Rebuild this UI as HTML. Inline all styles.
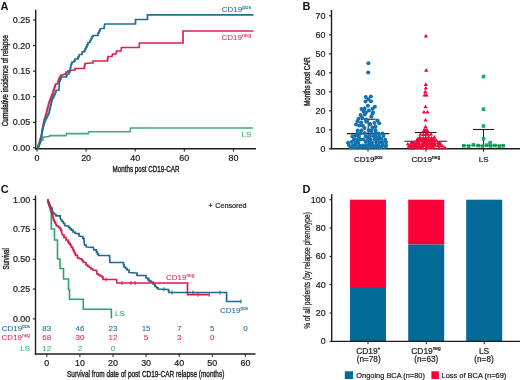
<!DOCTYPE html>
<html><head><meta charset="utf-8"><style>
html,body{margin:0;padding:0;background:#fff;}
.ttl{font-weight:normal;stroke:#222;stroke-width:0.38px;}
svg{display:block;font-family:"Liberation Sans",sans-serif;will-change:transform;}
</style></head><body>
<svg width="520" height="380" viewBox="0 0 520 380">
<rect width="520" height="380" fill="#fff"/>
<text x="0.6" y="9.9" font-size="11" font-weight="bold" fill="#111">A</text>
<line x1="35.7" y1="9.8" x2="35.7" y2="149.4" stroke="#1e1e1e" stroke-width="1.4"/>
<line x1="35" y1="148.7" x2="256" y2="148.7" stroke="#1e1e1e" stroke-width="1.4"/>
<line x1="33" y1="147.80" x2="36" y2="147.80" stroke="#1e1e1e" stroke-width="1.1"/>
<text x="30.1" y="150.80" font-size="8.9" text-anchor="end" fill="#222222" stroke="#222222" stroke-width="0.22">0.00</text>
<line x1="33" y1="122.25" x2="36" y2="122.25" stroke="#1e1e1e" stroke-width="1.1"/>
<text x="30.1" y="125.25" font-size="8.9" text-anchor="end" fill="#222222" stroke="#222222" stroke-width="0.22">0.05</text>
<line x1="33" y1="96.70" x2="36" y2="96.70" stroke="#1e1e1e" stroke-width="1.1"/>
<text x="30.1" y="99.70" font-size="8.9" text-anchor="end" fill="#222222" stroke="#222222" stroke-width="0.22">0.10</text>
<line x1="33" y1="71.15" x2="36" y2="71.15" stroke="#1e1e1e" stroke-width="1.1"/>
<text x="30.1" y="74.15" font-size="8.9" text-anchor="end" fill="#222222" stroke="#222222" stroke-width="0.22">0.15</text>
<line x1="33" y1="45.60" x2="36" y2="45.60" stroke="#1e1e1e" stroke-width="1.1"/>
<text x="30.1" y="48.60" font-size="8.9" text-anchor="end" fill="#222222" stroke="#222222" stroke-width="0.22">0.20</text>
<line x1="33" y1="20.05" x2="36" y2="20.05" stroke="#1e1e1e" stroke-width="1.1"/>
<text x="30.1" y="23.05" font-size="8.9" text-anchor="end" fill="#222222" stroke="#222222" stroke-width="0.22">0.25</text>
<line x1="37.00" y1="148.8" x2="37.00" y2="151.6" stroke="#1e1e1e" stroke-width="1"/>
<text x="37.00" y="160.8" font-size="8.9" text-anchor="middle" fill="#222222" stroke="#222222" stroke-width="0.22">0</text>
<line x1="86.10" y1="148.8" x2="86.10" y2="151.6" stroke="#1e1e1e" stroke-width="1"/>
<text x="86.10" y="160.8" font-size="8.9" text-anchor="middle" fill="#222222" stroke="#222222" stroke-width="0.22">20</text>
<line x1="135.20" y1="148.8" x2="135.20" y2="151.6" stroke="#1e1e1e" stroke-width="1"/>
<text x="135.20" y="160.8" font-size="8.9" text-anchor="middle" fill="#222222" stroke="#222222" stroke-width="0.22">40</text>
<line x1="184.30" y1="148.8" x2="184.30" y2="151.6" stroke="#1e1e1e" stroke-width="1"/>
<text x="184.30" y="160.8" font-size="8.9" text-anchor="middle" fill="#222222" stroke="#222222" stroke-width="0.22">60</text>
<line x1="233.40" y1="148.8" x2="233.40" y2="151.6" stroke="#1e1e1e" stroke-width="1"/>
<text x="233.40" y="160.8" font-size="8.9" text-anchor="middle" fill="#222222" stroke="#222222" stroke-width="0.22">80</text>
<text class="ttl" x="112.6" y="171.6" font-size="8.9" textLength="66.8" lengthAdjust="spacingAndGlyphs" fill="#222222">Months post CD19-CAR</text>
<text class="ttl" transform="translate(7.5,126.3) rotate(-90)" x="0" y="0" font-size="8.4" textLength="91.3" lengthAdjust="spacingAndGlyphs" fill="#222222">Cumulative incidence of relapse</text>
<polyline points="37,148 38.0,148.0 38.0,146.0 39.0,146.0 39.0,144.0 40.0,144.0 40.0,142.0 41.0,142.0 41.0,140.0 43.0,140.0 43.0,137.3 49.2,136.6 49.6,135.6 66,135.6 66.5,133.6 88.3,133.6 88.6,131.8 130,131.8 130.5,128 252.8,128" fill="none" stroke="#45a878" stroke-width="1.6"/>
<polyline points="37,148 37.75,148.0 37.75,146.5 38.5,146.5 38.5,145.0 39.0,145.0 39.0,143.33 39.5,143.33 39.5,141.67 40.0,141.67 40.0,140.0 40.5,140.0 40.5,138.0 41.0,138.0 41.0,136.0 41.5,136.0 41.5,134.0 41.83,134.0 41.83,132.0 42.17,132.0 42.17,130.0 42.5,130.0 42.5,128.0 42.88,128.0 42.88,126.0 43.25,126.0 43.25,124.0 43.62,124.0 43.62,122.0 44.0,122.0 44.0,120.0 44.62,120.0 44.62,118.0 45.25,118.0 45.25,116.0 45.88,116.0 45.88,114.0 46.5,114.0 46.5,112.0 46.92,112.0 46.92,110.33 47.33,110.33 47.33,108.67 47.75,108.67 47.75,107.0 48.17,107.0 48.17,105.33 48.58,105.33 48.58,103.67 49.0,103.67 49.0,102.0 49.7,102.0 49.7,100.2 50.4,100.2 50.4,98.4 51.1,98.4 51.1,96.6 51.8,96.6 51.8,94.8 52.5,94.8 52.5,93.0 53.1,93.0 53.1,91.2 53.7,91.2 53.7,89.4 54.3,89.4 54.3,87.6 54.9,87.6 54.9,85.8 55.5,85.8 55.5,84.0 57.5,84.0 57.5,83.0 58.0,83.0 58.0,81.33 58.5,81.33 58.5,79.67 59.0,79.67 59.0,78.0 60.0,78.0 60.0,76.5 61.0,76.5 61.0,75.0 63.0,75.0 63.0,74.5 65.0,74.5 65.0,74.0 66.0,74.0 66.0,72.0 68.0,72.0 68.0,71.0 70,70.5 74,70 75.0,70.0 75.0,68.5 84,68.5 84.33,68.5 84.33,66.83 84.67,66.83 84.67,65.17 85.0,65.17 85.0,63.5 92,63 93.0,63.0 93.0,61.0 107,61 107.5,61.0 107.5,58.75 108.0,58.75 108.0,56.5 112,56.5 112.5,54 116,54 116.5,51 121,51 121.5,47.5 139,47.5 139.5,43 183,43 183,31 253.5,31" fill="none" stroke="#d8244f" stroke-width="1.7"/>
<polyline points="37,148 38.5,148.0 38.5,145.5 39.25,145.5 39.25,143.25 40.0,143.25 40.0,141.0 40.5,141.0 40.5,139.33 41.0,139.33 41.0,137.67 41.5,137.67 41.5,136.0 41.75,136.0 41.75,134.25 42.0,134.25 42.0,132.5 42.25,132.5 42.25,130.75 42.5,130.75 42.5,129.0 43.0,129.0 43.0,127.0 43.5,127.0 43.5,125.0 44.0,125.0 44.0,123.33 44.5,123.33 44.5,121.67 45.0,121.67 45.0,120.0 46.0,120.0 46.0,118.0 47.0,118.0 47.0,116.0 48.0,116.0 48.0,114.0 49.0,114.0 49.0,112.0 49.43,112.0 49.43,110.14 49.86,110.14 49.86,108.29 50.29,108.29 50.29,106.43 50.71,106.43 50.71,104.57 51.14,104.57 51.14,102.71 51.57,102.71 51.57,100.86 52.0,100.86 52.0,99.0 52.83,99.0 52.83,97.33 53.67,97.33 53.67,95.67 54.5,95.67 54.5,94.0 55.25,94.0 55.25,92.25 56.0,92.25 56.0,90.5 59,90 59.5,81 60.25,81.0 60.25,79.0 61.0,79.0 61.0,77.0 66,77 66.5,77.0 66.5,75.5 67.0,75.5 67.0,74.0 69.0,74.0 69.0,72.0 70.0,72.0 70.0,70.0 70.33,70.0 70.33,68.0 70.67,68.0 70.67,66.0 71.0,66.0 71.0,64.0 72.0,64.0 72.0,62.0 74.0,62.0 74.0,61.0 75.0,61.0 75.0,59.0 77,59 78.0,59.0 78.0,57.0 79.0,57.0 79.0,55.0 80,54.5 82.0,54.5 82.0,52.0 84.0,52.0 84.0,51.0 85.0,51.0 85.0,49.0 86.0,49.0 86.0,47.0 87.0,47.0 87.0,44.75 88.0,44.75 88.0,42.5 90.0,42.5 90.0,40.5 91.0,40.5 91.0,38.5 92.0,38.5 92.0,36.5 93.0,36.5 93.0,35.5 97,35.5 98.0,35.5 98.0,33.0 99.0,33.0 99.0,31.0 100.0,31.0 100.0,29.0 101,28.5 104,28.5 104.5,25 105,24 135.5,24 135.5,19.5 147.5,19.5 147.5,14.8 253.5,14.8" fill="none" stroke="#226d90" stroke-width="1.7"/>
<text x="221.8" y="12.1" font-size="8" fill="#2a72a0" stroke="#2a72a0" stroke-width="0.1">CD19<tspan font-size="5.6" dy="-3.2">pos</tspan></text>
<text x="221.5" y="40.3" font-size="8" fill="#dc3460" stroke="#dc3460" stroke-width="0.1">CD19<tspan font-size="5.6" dy="-3.2">neg</tspan></text>
<text x="241.5" y="137.1" font-size="8" fill="#3cb371" stroke="#3cb371" stroke-width="0.1">LS</text>
<text x="302.6" y="9.8" font-size="11" font-weight="bold" fill="#111">B</text>
<line x1="331.5" y1="10" x2="331.5" y2="149.4" stroke="#1e1e1e" stroke-width="1.4"/>
<line x1="330.8" y1="148.7" x2="520" y2="148.7" stroke="#1e1e1e" stroke-width="1.4"/>
<line x1="329" y1="148.80" x2="331.5" y2="148.80" stroke="#1e1e1e" stroke-width="1.1"/>
<text x="325.4" y="151.80" font-size="8.9" text-anchor="end" fill="#222222" stroke="#222222" stroke-width="0.22">0</text>
<line x1="329" y1="129.80" x2="331.5" y2="129.80" stroke="#1e1e1e" stroke-width="1.1"/>
<text x="325.4" y="132.80" font-size="8.9" text-anchor="end" fill="#222222" stroke="#222222" stroke-width="0.22">10</text>
<line x1="329" y1="110.80" x2="331.5" y2="110.80" stroke="#1e1e1e" stroke-width="1.1"/>
<text x="325.4" y="113.80" font-size="8.9" text-anchor="end" fill="#222222" stroke="#222222" stroke-width="0.22">20</text>
<line x1="329" y1="91.80" x2="331.5" y2="91.80" stroke="#1e1e1e" stroke-width="1.1"/>
<text x="325.4" y="94.80" font-size="8.9" text-anchor="end" fill="#222222" stroke="#222222" stroke-width="0.22">30</text>
<line x1="329" y1="72.80" x2="331.5" y2="72.80" stroke="#1e1e1e" stroke-width="1.1"/>
<text x="325.4" y="75.80" font-size="8.9" text-anchor="end" fill="#222222" stroke="#222222" stroke-width="0.22">40</text>
<line x1="329" y1="53.80" x2="331.5" y2="53.80" stroke="#1e1e1e" stroke-width="1.1"/>
<text x="325.4" y="56.80" font-size="8.9" text-anchor="end" fill="#222222" stroke="#222222" stroke-width="0.22">50</text>
<line x1="329" y1="34.80" x2="331.5" y2="34.80" stroke="#1e1e1e" stroke-width="1.1"/>
<text x="325.4" y="37.80" font-size="8.9" text-anchor="end" fill="#222222" stroke="#222222" stroke-width="0.22">60</text>
<line x1="329" y1="15.80" x2="331.5" y2="15.80" stroke="#1e1e1e" stroke-width="1.1"/>
<text x="325.4" y="18.80" font-size="8.9" text-anchor="end" fill="#222222" stroke="#222222" stroke-width="0.22">70</text>
<line x1="368" y1="148.8" x2="368" y2="151.6" stroke="#1e1e1e" stroke-width="1"/>
<line x1="426" y1="148.8" x2="426" y2="151.6" stroke="#1e1e1e" stroke-width="1"/>
<line x1="483.5" y1="148.8" x2="483.5" y2="151.6" stroke="#1e1e1e" stroke-width="1"/>
<text x="368.3" y="162" font-size="8" text-anchor="middle" fill="#222222" stroke="#222222" stroke-width="0.22">CD19<tspan font-size="5" dy="-3.1">pos</tspan></text>
<text x="425.8" y="162" font-size="8" text-anchor="middle" fill="#222222" stroke="#222222" stroke-width="0.22">CD19<tspan font-size="5" dy="-3.1">neg</tspan></text>
<text x="483.6" y="162" font-size="8" text-anchor="middle" fill="#222222" stroke="#222222" stroke-width="0.22">LS</text>
<line x1="368.2" y1="119.2" x2="368.2" y2="147" stroke="#1e1e1e" stroke-width="1"/>
<line x1="360.7" y1="119.2" x2="375.7" y2="119.2" stroke="#1e1e1e" stroke-width="1.1"/>
<line x1="347.0" y1="133.6" x2="389.4" y2="133.6" stroke="#1e1e1e" stroke-width="1.1"/>
<line x1="425.8" y1="132.5" x2="425.8" y2="148" stroke="#1e1e1e" stroke-width="1"/>
<line x1="415.0" y1="132.5" x2="436.6" y2="132.5" stroke="#1e1e1e" stroke-width="1.1"/>
<line x1="404.40000000000003" y1="141.3" x2="447.2" y2="141.3" stroke="#1e1e1e" stroke-width="1.1"/>
<line x1="483.5" y1="129.5" x2="483.5" y2="148" stroke="#1e1e1e" stroke-width="1"/>
<line x1="473.0" y1="129.5" x2="494.0" y2="129.5" stroke="#1e1e1e" stroke-width="1.1"/>
<circle cx="368.40" cy="63.30" r="2" fill="#1571ad"/>
<circle cx="368.20" cy="72.50" r="2" fill="#1571ad"/>
<circle cx="365.80" cy="97.00" r="2" fill="#1571ad"/>
<circle cx="370.90" cy="96.60" r="2" fill="#1571ad"/>
<circle cx="368.20" cy="99.20" r="2" fill="#1571ad"/>
<circle cx="365.50" cy="101.60" r="2" fill="#1571ad"/>
<circle cx="370.90" cy="101.30" r="2" fill="#1571ad"/>
<circle cx="367.90" cy="105.70" r="2" fill="#1571ad"/>
<circle cx="374.90" cy="106.70" r="2" fill="#1571ad"/>
<circle cx="361.50" cy="108.90" r="2" fill="#1571ad"/>
<circle cx="364.60" cy="108.60" r="2" fill="#1571ad"/>
<circle cx="372.60" cy="108.80" r="2" fill="#1571ad"/>
<circle cx="369.00" cy="110.40" r="2" fill="#1571ad"/>
<circle cx="366.00" cy="112.30" r="2" fill="#1571ad"/>
<circle cx="373.00" cy="112.60" r="2" fill="#1571ad"/>
<circle cx="364.80" cy="114.50" r="2" fill="#1571ad"/>
<circle cx="372.50" cy="113.60" r="2" fill="#1571ad"/>
<circle cx="362.00" cy="117.50" r="2" fill="#1571ad"/>
<circle cx="371.30" cy="116.40" r="2" fill="#1571ad"/>
<circle cx="357.50" cy="121.20" r="2" fill="#1571ad"/>
<circle cx="361.20" cy="122.60" r="2" fill="#1571ad"/>
<circle cx="366.20" cy="121.70" r="2" fill="#1571ad"/>
<circle cx="370.00" cy="124.00" r="2" fill="#1571ad"/>
<circle cx="374.50" cy="123.00" r="2" fill="#1571ad"/>
<circle cx="379.20" cy="123.30" r="2" fill="#1571ad"/>
<circle cx="359.30" cy="125.40" r="2" fill="#1571ad"/>
<circle cx="362.80" cy="125.80" r="2" fill="#1571ad"/>
<circle cx="366.00" cy="119.50" r="2" fill="#1571ad"/>
<circle cx="356.00" cy="124.50" r="2" fill="#1571ad"/>
<circle cx="358.50" cy="118.80" r="2" fill="#1571ad"/>
<circle cx="369.90" cy="124.60" r="2" fill="#1571ad"/>
<circle cx="375.50" cy="126.80" r="2" fill="#1571ad"/>
<circle cx="372.50" cy="127.50" r="2" fill="#1571ad"/>
<circle cx="364.50" cy="128.00" r="2" fill="#1571ad"/>
<circle cx="377.50" cy="120.50" r="2" fill="#1571ad"/>
<circle cx="363.50" cy="111.50" r="2" fill="#1571ad"/>
<circle cx="360.50" cy="115.00" r="2" fill="#1571ad"/>
<circle cx="357.74" cy="130.44" r="2" fill="#1571ad"/>
<circle cx="361.34" cy="130.54" r="2" fill="#1571ad"/>
<circle cx="368.74" cy="130.32" r="2" fill="#1571ad"/>
<circle cx="371.51" cy="130.18" r="2" fill="#1571ad"/>
<circle cx="375.54" cy="130.26" r="2" fill="#1571ad"/>
<circle cx="357.28" cy="133.63" r="2" fill="#1571ad"/>
<circle cx="360.66" cy="133.54" r="2" fill="#1571ad"/>
<circle cx="364.62" cy="133.00" r="2" fill="#1571ad"/>
<circle cx="371.21" cy="133.07" r="2" fill="#1571ad"/>
<circle cx="375.37" cy="133.13" r="2" fill="#1571ad"/>
<circle cx="378.54" cy="133.44" r="2" fill="#1571ad"/>
<circle cx="382.44" cy="133.45" r="2" fill="#1571ad"/>
<circle cx="352.39" cy="136.24" r="2" fill="#1571ad"/>
<circle cx="355.15" cy="136.12" r="2" fill="#1571ad"/>
<circle cx="358.78" cy="136.48" r="2" fill="#1571ad"/>
<circle cx="365.79" cy="136.25" r="2" fill="#1571ad"/>
<circle cx="369.43" cy="136.25" r="2" fill="#1571ad"/>
<circle cx="373.14" cy="136.05" r="2" fill="#1571ad"/>
<circle cx="375.95" cy="136.60" r="2" fill="#1571ad"/>
<circle cx="379.43" cy="136.63" r="2" fill="#1571ad"/>
<circle cx="383.48" cy="136.01" r="2" fill="#1571ad"/>
<circle cx="353.96" cy="139.16" r="2" fill="#1571ad"/>
<circle cx="357.43" cy="139.75" r="2" fill="#1571ad"/>
<circle cx="360.35" cy="139.42" r="2" fill="#1571ad"/>
<circle cx="363.61" cy="139.60" r="2" fill="#1571ad"/>
<circle cx="367.86" cy="139.03" r="2" fill="#1571ad"/>
<circle cx="370.59" cy="139.27" r="2" fill="#1571ad"/>
<circle cx="374.92" cy="139.27" r="2" fill="#1571ad"/>
<circle cx="378.05" cy="139.25" r="2" fill="#1571ad"/>
<circle cx="381.18" cy="139.06" r="2" fill="#1571ad"/>
<circle cx="385.19" cy="139.80" r="2" fill="#1571ad"/>
<circle cx="348.05" cy="142.69" r="2" fill="#1571ad"/>
<circle cx="351.81" cy="142.09" r="2" fill="#1571ad"/>
<circle cx="355.64" cy="142.26" r="2" fill="#1571ad"/>
<circle cx="358.28" cy="142.63" r="2" fill="#1571ad"/>
<circle cx="365.88" cy="142.00" r="2" fill="#1571ad"/>
<circle cx="369.40" cy="142.40" r="2" fill="#1571ad"/>
<circle cx="371.97" cy="142.25" r="2" fill="#1571ad"/>
<circle cx="376.12" cy="142.14" r="2" fill="#1571ad"/>
<circle cx="379.68" cy="142.58" r="2" fill="#1571ad"/>
<circle cx="382.54" cy="142.29" r="2" fill="#1571ad"/>
<circle cx="385.98" cy="142.13" r="2" fill="#1571ad"/>
<circle cx="348.85" cy="145.10" r="2" fill="#1571ad"/>
<circle cx="352.99" cy="145.30" r="2" fill="#1571ad"/>
<circle cx="355.69" cy="144.87" r="2" fill="#1571ad"/>
<circle cx="359.46" cy="145.49" r="2" fill="#1571ad"/>
<circle cx="362.80" cy="145.42" r="2" fill="#1571ad"/>
<circle cx="366.00" cy="145.41" r="2" fill="#1571ad"/>
<circle cx="369.37" cy="145.02" r="2" fill="#1571ad"/>
<circle cx="372.76" cy="145.35" r="2" fill="#1571ad"/>
<circle cx="376.26" cy="145.32" r="2" fill="#1571ad"/>
<circle cx="378.66" cy="145.24" r="2" fill="#1571ad"/>
<circle cx="382.64" cy="145.17" r="2" fill="#1571ad"/>
<circle cx="385.95" cy="145.44" r="2" fill="#1571ad"/>
<circle cx="350.64" cy="147.49" r="2" fill="#1571ad"/>
<circle cx="353.85" cy="147.57" r="2" fill="#1571ad"/>
<circle cx="357.69" cy="147.68" r="2" fill="#1571ad"/>
<circle cx="361.02" cy="147.32" r="2" fill="#1571ad"/>
<circle cx="364.84" cy="147.65" r="2" fill="#1571ad"/>
<circle cx="368.19" cy="147.48" r="2" fill="#1571ad"/>
<circle cx="371.17" cy="147.52" r="2" fill="#1571ad"/>
<circle cx="375.17" cy="147.24" r="2" fill="#1571ad"/>
<circle cx="378.77" cy="147.41" r="2" fill="#1571ad"/>
<circle cx="381.53" cy="147.03" r="2" fill="#1571ad"/>
<circle cx="385.65" cy="147.08" r="2" fill="#1571ad"/>
<path d="M423.80,37.40L425.90,33.80L428.00,37.40Z" fill="#f2043a"/>
<path d="M424.10,71.70L426.20,68.10L428.30,71.70Z" fill="#f2043a"/>
<path d="M423.70,85.90L425.80,82.30L427.90,85.90Z" fill="#f2043a"/>
<path d="M423.70,89.60L425.80,86.00L427.90,89.60Z" fill="#f2043a"/>
<path d="M423.10,93.20L425.20,89.60L427.30,93.20Z" fill="#f2043a"/>
<path d="M422.50,96.60L424.60,93.00L426.70,96.60Z" fill="#f2043a"/>
<path d="M424.50,96.60L426.60,93.00L428.70,96.60Z" fill="#f2043a"/>
<path d="M423.40,108.20L425.50,104.60L427.60,108.20Z" fill="#f2043a"/>
<path d="M421.90,113.60L424.00,110.00L426.10,113.60Z" fill="#f2043a"/>
<path d="M425.40,113.60L427.50,110.00L429.60,113.60Z" fill="#f2043a"/>
<path d="M423.40,121.60L425.50,118.00L427.60,121.60Z" fill="#f2043a"/>
<path d="M423.40,128.20L425.50,124.60L427.60,128.20Z" fill="#f2043a"/>
<path d="M422.20,131.40L424.30,127.80L426.40,131.40Z" fill="#f2043a"/>
<path d="M424.60,131.40L426.70,127.80L428.80,131.40Z" fill="#f2043a"/>
<path d="M421.66,132.25L423.76,128.65L425.86,132.25Z" fill="#f2043a"/>
<path d="M423.17,132.26L425.27,128.66L427.37,132.26Z" fill="#f2043a"/>
<path d="M425.28,132.42L427.38,128.82L429.48,132.42Z" fill="#f2043a"/>
<path d="M418.34,135.76L420.44,132.16L422.54,135.76Z" fill="#f2043a"/>
<path d="M421.38,135.91L423.48,132.31L425.58,135.91Z" fill="#f2043a"/>
<path d="M424.08,135.20L426.18,131.60L428.28,135.20Z" fill="#f2043a"/>
<path d="M425.68,135.69L427.78,132.09L429.88,135.69Z" fill="#f2043a"/>
<path d="M428.70,135.65L430.80,132.05L432.90,135.65Z" fill="#f2043a"/>
<path d="M417.78,138.95L419.88,135.35L421.98,138.95Z" fill="#f2043a"/>
<path d="M421.13,139.45L423.23,135.85L425.33,139.45Z" fill="#f2043a"/>
<path d="M423.70,139.28L425.80,135.68L427.90,139.28Z" fill="#f2043a"/>
<path d="M426.41,138.47L428.51,134.87L430.61,138.47Z" fill="#f2043a"/>
<path d="M429.41,139.45L431.51,135.85L433.61,139.45Z" fill="#f2043a"/>
<path d="M432.23,138.72L434.33,135.12L436.43,138.72Z" fill="#f2043a"/>
<path d="M415.80,140.13L417.90,136.53L420.00,140.13Z" fill="#f2043a"/>
<path d="M419.04,140.17L421.14,136.57L423.24,140.17Z" fill="#f2043a"/>
<path d="M421.87,140.45L423.97,136.85L426.07,140.45Z" fill="#f2043a"/>
<path d="M423.57,140.35L425.67,136.75L427.77,140.35Z" fill="#f2043a"/>
<path d="M426.26,141.15L428.36,137.55L430.46,141.15Z" fill="#f2043a"/>
<path d="M429.01,140.31L431.11,136.71L433.21,140.31Z" fill="#f2043a"/>
<path d="M431.40,140.50L433.50,136.90L435.60,140.50Z" fill="#f2043a"/>
<path d="M414.68,142.19L416.78,138.59L418.88,142.19Z" fill="#f2043a"/>
<path d="M416.52,141.75L418.62,138.15L420.72,141.75Z" fill="#f2043a"/>
<path d="M418.93,141.95L421.03,138.35L423.13,141.95Z" fill="#f2043a"/>
<path d="M421.84,141.62L423.94,138.02L426.04,141.62Z" fill="#f2043a"/>
<path d="M423.63,142.72L425.73,139.12L427.83,142.72Z" fill="#f2043a"/>
<path d="M426.04,141.92L428.14,138.32L430.24,141.92Z" fill="#f2043a"/>
<path d="M429.39,141.95L431.49,138.35L433.59,141.95Z" fill="#f2043a"/>
<path d="M431.22,142.37L433.32,138.77L435.42,142.37Z" fill="#f2043a"/>
<path d="M433.99,141.74L436.09,138.14L438.19,141.74Z" fill="#f2043a"/>
<path d="M409.66,143.94L411.76,140.34L413.86,143.94Z" fill="#f2043a"/>
<path d="M412.20,143.94L414.30,140.34L416.40,143.94Z" fill="#f2043a"/>
<path d="M414.82,144.19L416.92,140.59L419.02,144.19Z" fill="#f2043a"/>
<path d="M416.98,143.60L419.08,140.00L421.18,143.60Z" fill="#f2043a"/>
<path d="M420.58,144.37L422.68,140.77L424.78,144.37Z" fill="#f2043a"/>
<path d="M422.04,144.23L424.14,140.63L426.24,144.23Z" fill="#f2043a"/>
<path d="M425.26,144.15L427.36,140.55L429.46,144.15Z" fill="#f2043a"/>
<path d="M427.70,144.39L429.80,140.79L431.90,144.39Z" fill="#f2043a"/>
<path d="M430.13,144.32L432.23,140.72L434.33,144.32Z" fill="#f2043a"/>
<path d="M432.56,144.30L434.66,140.70L436.76,144.30Z" fill="#f2043a"/>
<path d="M435.76,144.13L437.86,140.53L439.96,144.13Z" fill="#f2043a"/>
<path d="M437.64,144.24L439.74,140.64L441.84,144.24Z" fill="#f2043a"/>
<path d="M405.77,145.57L407.87,141.97L409.97,145.57Z" fill="#f2043a"/>
<path d="M408.85,145.40L410.95,141.80L413.05,145.40Z" fill="#f2043a"/>
<path d="M411.61,145.97L413.71,142.37L415.81,145.97Z" fill="#f2043a"/>
<path d="M413.84,145.98L415.94,142.38L418.04,145.98Z" fill="#f2043a"/>
<path d="M417.01,145.03L419.11,141.43L421.21,145.03Z" fill="#f2043a"/>
<path d="M420.04,146.20L422.14,142.60L424.24,146.20Z" fill="#f2043a"/>
<path d="M421.58,146.01L423.68,142.41L425.78,146.01Z" fill="#f2043a"/>
<path d="M424.95,146.14L427.05,142.54L429.15,146.14Z" fill="#f2043a"/>
<path d="M426.99,145.35L429.09,141.75L431.19,145.35Z" fill="#f2043a"/>
<path d="M429.66,145.73L431.76,142.13L433.86,145.73Z" fill="#f2043a"/>
<path d="M432.33,145.75L434.43,142.15L436.53,145.75Z" fill="#f2043a"/>
<path d="M437.90,145.09L440.00,141.49L442.10,145.09Z" fill="#f2043a"/>
<path d="M406.69,147.75L408.79,144.15L410.89,147.75Z" fill="#f2043a"/>
<path d="M408.97,147.08L411.07,143.48L413.17,147.08Z" fill="#f2043a"/>
<path d="M411.70,147.83L413.80,144.23L415.90,147.83Z" fill="#f2043a"/>
<path d="M413.83,147.54L415.93,143.94L418.03,147.54Z" fill="#f2043a"/>
<path d="M417.17,147.31L419.27,143.71L421.37,147.31Z" fill="#f2043a"/>
<path d="M419.74,147.45L421.84,143.85L423.94,147.45Z" fill="#f2043a"/>
<path d="M422.39,147.01L424.49,143.41L426.59,147.01Z" fill="#f2043a"/>
<path d="M425.00,146.86L427.10,143.26L429.20,146.86Z" fill="#f2043a"/>
<path d="M427.48,147.58L429.58,143.98L431.68,147.58Z" fill="#f2043a"/>
<path d="M430.54,147.49L432.64,143.89L434.74,147.49Z" fill="#f2043a"/>
<path d="M433.14,146.81L435.24,143.21L437.34,146.81Z" fill="#f2043a"/>
<path d="M435.71,146.99L437.81,143.39L439.91,146.99Z" fill="#f2043a"/>
<path d="M438.22,147.09L440.32,143.49L442.42,147.09Z" fill="#f2043a"/>
<path d="M440.34,147.57L442.44,143.97L444.54,147.57Z" fill="#f2043a"/>
<path d="M408.30,149.22L410.40,145.62L412.50,149.22Z" fill="#f2043a"/>
<path d="M409.95,149.57L412.05,145.97L414.15,149.57Z" fill="#f2043a"/>
<path d="M413.46,148.57L415.56,144.97L417.66,148.57Z" fill="#f2043a"/>
<path d="M415.55,148.68L417.65,145.08L419.75,148.68Z" fill="#f2043a"/>
<path d="M418.52,148.82L420.62,145.22L422.72,148.82Z" fill="#f2043a"/>
<path d="M420.61,149.40L422.71,145.80L424.81,149.40Z" fill="#f2043a"/>
<path d="M424.07,148.92L426.17,145.32L428.27,148.92Z" fill="#f2043a"/>
<path d="M426.38,149.11L428.48,145.51L430.58,149.11Z" fill="#f2043a"/>
<path d="M429.30,148.87L431.40,145.27L433.50,148.87Z" fill="#f2043a"/>
<path d="M431.11,148.64L433.21,145.04L435.31,148.64Z" fill="#f2043a"/>
<path d="M436.96,149.31L439.06,145.71L441.16,149.31Z" fill="#f2043a"/>
<path d="M442.77,149.14L444.87,145.54L446.97,149.14Z" fill="#f2043a"/>
<rect x="481.65" y="74.75" width="3.7" height="3.7" fill="#1fb066"/>
<rect x="481.65" y="107.35" width="3.7" height="3.7" fill="#1fb066"/>
<rect x="481.65" y="124.15" width="3.7" height="3.7" fill="#1fb066"/>
<rect x="481.65" y="136.95" width="3.7" height="3.7" fill="#1fb066"/>
<rect x="488.35" y="140.85" width="3.7" height="3.7" fill="#1fb066"/>
<rect x="461.95" y="143.95" width="3.7" height="3.7" fill="#1fb066"/>
<rect x="466.75" y="144.35" width="3.7" height="3.7" fill="#1fb066"/>
<rect x="471.55" y="142.95" width="3.7" height="3.7" fill="#1fb066"/>
<rect x="476.35" y="143.75" width="3.7" height="3.7" fill="#1fb066"/>
<rect x="480.65" y="144.35" width="3.7" height="3.7" fill="#1fb066"/>
<rect x="484.95" y="143.35" width="3.7" height="3.7" fill="#1fb066"/>
<rect x="488.85" y="144.15" width="3.7" height="3.7" fill="#1fb066"/>
<rect x="493.15" y="143.75" width="3.7" height="3.7" fill="#1fb066"/>
<rect x="497.45" y="144.25" width="3.7" height="3.7" fill="#1fb066"/>
<rect x="501.35" y="143.95" width="3.7" height="3.7" fill="#1fb066"/>
<line x1="462" y1="145.4" x2="505" y2="145.4" stroke="#3a5a48" stroke-width="0.9" opacity="0.8"/>
<text class="ttl" transform="translate(309.6,105.8) rotate(-90)" font-size="8.2" textLength="48.6" lengthAdjust="spacingAndGlyphs" fill="#222222">Months post CAR</text>
<text x="0.8" y="193.2" font-size="11" font-weight="bold" fill="#111">C</text>
<line x1="35.5" y1="195.5" x2="35.5" y2="354.7" stroke="#1e1e1e" stroke-width="1.4"/>
<line x1="34.8" y1="354" x2="255.5" y2="354" stroke="#1e1e1e" stroke-width="1.4"/>
<line x1="32.8" y1="318.90" x2="35.5" y2="318.90" stroke="#1e1e1e" stroke-width="1.1"/>
<text x="30.2" y="321.90" font-size="8.9" text-anchor="end" fill="#222222" stroke="#222222" stroke-width="0.22">0.00</text>
<line x1="32.8" y1="289.05" x2="35.5" y2="289.05" stroke="#1e1e1e" stroke-width="1.1"/>
<text x="30.2" y="292.05" font-size="8.9" text-anchor="end" fill="#222222" stroke="#222222" stroke-width="0.22">0.25</text>
<line x1="32.8" y1="259.20" x2="35.5" y2="259.20" stroke="#1e1e1e" stroke-width="1.1"/>
<text x="30.2" y="262.20" font-size="8.9" text-anchor="end" fill="#222222" stroke="#222222" stroke-width="0.22">0.50</text>
<line x1="32.8" y1="229.35" x2="35.5" y2="229.35" stroke="#1e1e1e" stroke-width="1.1"/>
<text x="30.2" y="232.35" font-size="8.9" text-anchor="end" fill="#222222" stroke="#222222" stroke-width="0.22">0.75</text>
<line x1="32.8" y1="199.50" x2="35.5" y2="199.50" stroke="#1e1e1e" stroke-width="1.1"/>
<text x="30.2" y="202.50" font-size="8.9" text-anchor="end" fill="#222222" stroke="#222222" stroke-width="0.22">1.00</text>
<line x1="46.80" y1="354" x2="46.80" y2="356.9" stroke="#1e1e1e" stroke-width="1"/>
<text x="46.80" y="366" font-size="8.9" text-anchor="middle" fill="#222222" stroke="#222222" stroke-width="0.22">0</text>
<line x1="79.90" y1="354" x2="79.90" y2="356.9" stroke="#1e1e1e" stroke-width="1"/>
<text x="79.90" y="366" font-size="8.9" text-anchor="middle" fill="#222222" stroke="#222222" stroke-width="0.22">10</text>
<line x1="113.00" y1="354" x2="113.00" y2="356.9" stroke="#1e1e1e" stroke-width="1"/>
<text x="113.00" y="366" font-size="8.9" text-anchor="middle" fill="#222222" stroke="#222222" stroke-width="0.22">20</text>
<line x1="146.10" y1="354" x2="146.10" y2="356.9" stroke="#1e1e1e" stroke-width="1"/>
<text x="146.10" y="366" font-size="8.9" text-anchor="middle" fill="#222222" stroke="#222222" stroke-width="0.22">30</text>
<line x1="179.20" y1="354" x2="179.20" y2="356.9" stroke="#1e1e1e" stroke-width="1"/>
<text x="179.20" y="366" font-size="8.9" text-anchor="middle" fill="#222222" stroke="#222222" stroke-width="0.22">40</text>
<line x1="212.30" y1="354" x2="212.30" y2="356.9" stroke="#1e1e1e" stroke-width="1"/>
<text x="212.30" y="366" font-size="8.9" text-anchor="middle" fill="#222222" stroke="#222222" stroke-width="0.22">50</text>
<line x1="245.40" y1="354" x2="245.40" y2="356.9" stroke="#1e1e1e" stroke-width="1"/>
<text x="245.40" y="366" font-size="8.9" text-anchor="middle" fill="#222222" stroke="#222222" stroke-width="0.22">60</text>
<text class="ttl" x="67" y="377.4" font-size="8.9" textLength="157.3" lengthAdjust="spacingAndGlyphs" fill="#222222">Survival from date of post CD19-CAR relapse (months)</text>
<text class="ttl" transform="translate(8.7,269.6) rotate(-90)" font-size="8.7" textLength="21.4" lengthAdjust="spacingAndGlyphs" fill="#222222">Survival</text>
<text x="208.6" y="208" font-size="7" fill="#222222" stroke="#222222" stroke-width="0.22">+</text>
<text x="215.2" y="207.5" font-size="8" textLength="31.4" lengthAdjust="spacingAndGlyphs" fill="#222222" stroke="#222222" stroke-width="0.22">Censored</text>
<polyline points="47.2,200 47.76,200.0 47.76,201.8 48.32,201.8 48.32,203.6 48.88,203.6 48.88,205.4 49.44,205.4 49.44,207.2 50.0,207.2 50.0,209.0 50.43,209.0 50.43,210.67 50.87,210.67 50.87,212.33 51.3,212.33 51.3,214.0 51.3,229 54.5,229 54.5,240 57.5,240 57.5,259 60,259 60,268.5 63.5,268.5 63.5,279 68.5,279 68.5,289.5 69.5,289.5 69.5,299.2 83.3,299.2 83.3,309.3 111.4,309.3 111.4,318.4" fill="none" stroke="#28a468" stroke-width="1.6"/>
<polyline points="47.2,200 48.03,200.0 48.03,202.0 48.85,202.0 48.85,204.0 49.67,204.0 49.67,206.0 50.5,206.0 50.5,208.0 52.3,208.0 52.3,209.5 53,213 54.3,213.0 54.3,214.5 56.0,214.5 56.0,215.8 58,215.8 60.2,215.8 60.2,217.5 61,220 62.0,220.0 62.0,221.5 63.35,221.5 63.35,223.5 64.7,223.5 64.7,225.5 67,226 68.7,226.0 68.7,227.5 70.05,227.5 70.05,228.85 71.4,228.85 71.4,230.2 73.0,230.2 73.0,232.0 75.0,232.0 75.0,233.0 77,233.6 79.0,233.6 79.0,235.8 81,236.5 82.9,236.5 82.9,238.5 84.0,238.5 84.0,241.0 84.5,245 86.0,245.0 86.0,246.8 88,247 93.3,247.3 94,249.9 96.4,249.9 96.4,252.2 97.4,252.2 97.4,253.85 98.4,253.85 98.4,255.5 109.5,255.5 110,262.5 123,262.5 123.5,262.5 123.5,264.75 124.0,264.75 124.0,267.0 125.5,267.0 125.5,268.5 127.0,268.5 127.0,270.0 129.0,270.0 129.0,272.5 136,273 137.0,273.0 137.0,275.5 144.5,275.5 146.0,275.5 146.0,278.0 148.0,278.0 148.0,280.0 149.5,280.0 149.5,281.0 151.0,281.0 151.0,282.0 153.0,282.0 153.0,284.0 155.0,284.0 155.0,286.5 156.5,286.5 156.5,287.75 158.0,287.75 158.0,289.0 168,289.5 168.5,289.5 168.5,291.0 169.0,291.0 169.0,292.5 226.6,292.5 226.6,301.5 241,301.5" fill="none" stroke="#1f6a90" stroke-width="1.7"/>
<polyline points="47.2,200 47.9,200.0 47.9,201.75 48.6,201.75 48.6,203.5 49.3,203.5 49.3,205.25 50.0,205.25 50.0,207.0 50.5,207.0 50.5,208.67 51.0,208.67 51.0,210.33 51.5,210.33 51.5,212.0 52.0,212.0 52.0,214.0 52.5,214.0 52.5,216.0 53.0,216.0 53.0,218.0 53.5,218.0 53.5,220.0 54.25,220.0 54.25,221.5 55.0,221.5 55.0,223.0 55.75,223.0 55.75,224.5 56.5,224.5 56.5,226.0 58.5,226.0 58.5,227.5 60.0,227.5 60.0,228.5 60.8,228.5 60.8,230.35 61.6,230.35 61.6,232.2 62.5,235 64.0,235.0 64.0,237.5 66.0,237.5 66.0,240.0 67.9,240.0 67.9,241.7 68.95,241.7 68.95,243.35 70.0,243.35 70.0,245.0 71.35,245.0 71.35,247.25 72.7,247.25 72.7,249.5 73.63,249.5 73.63,251.47 74.57,251.47 74.57,253.43 75.5,253.43 75.5,255.4 77.5,255.4 77.5,258.0 79.45,258.0 79.45,258.75 81.4,258.75 81.4,259.5 82.4,259.5 82.4,261.0 83.4,261.0 83.4,262.5 86.0,262.5 86.0,265.0 87.65,265.0 87.65,266.25 89.3,266.25 89.3,267.5 91.0,267.5 91.0,269.0 93.0,269.0 93.0,270.0 96.5,270.5 97,274 98.5,274.0 98.5,275.0 100.0,275.0 100.0,276.0 102.0,276.0 102.0,277.0 103.0,277.0 103.0,279.5 116.5,279.5 117,283 187.5,283 187.5,294.7 209.2,294.7" fill="none" stroke="#d81c4e" stroke-width="1.7"/>
<line x1="106" y1="277.5" x2="106" y2="281.5" stroke="#d81c4e" stroke-width="1"/>
<line x1="122" y1="281" x2="122" y2="285" stroke="#d81c4e" stroke-width="1"/>
<line x1="131" y1="281" x2="131" y2="285" stroke="#d81c4e" stroke-width="1"/>
<line x1="135" y1="281" x2="135" y2="285" stroke="#d81c4e" stroke-width="1"/>
<line x1="198" y1="292.7" x2="198" y2="296.7" stroke="#d81c4e" stroke-width="1"/>
<line x1="209.2" y1="292.7" x2="209.2" y2="296.7" stroke="#d81c4e" stroke-width="1"/>
<line x1="149" y1="278" x2="149" y2="282" stroke="#1f6a90" stroke-width="1"/>
<line x1="164" y1="287.2" x2="164" y2="291.2" stroke="#1f6a90" stroke-width="1"/>
<line x1="172" y1="290.5" x2="172" y2="294.5" stroke="#1f6a90" stroke-width="1"/>
<line x1="193" y1="290.5" x2="193" y2="294.5" stroke="#1f6a90" stroke-width="1"/>
<line x1="220" y1="290.5" x2="220" y2="294.5" stroke="#1f6a90" stroke-width="1"/>
<line x1="241" y1="299.5" x2="241" y2="303.5" stroke="#1f6a90" stroke-width="1"/>
<text x="166" y="280" font-size="8" fill="#dc3460" stroke="#dc3460" stroke-width="0.1">CD19<tspan font-size="4.8" dy="-3.0">neg</tspan></text>
<text x="220" y="313.3" font-size="8" fill="#2a72a0" stroke="#2a72a0" stroke-width="0.1">CD19<tspan font-size="4.8" dy="-3.0">pos</tspan></text>
<text x="115" y="316.1" font-size="8" fill="#3cb371" stroke="#3cb371" stroke-width="0.1">LS</text>
<text x="30" y="330.8" font-size="8" text-anchor="end" fill="#2a72a0" stroke="#2a72a0" stroke-width="0.1">CD19<tspan font-size="4.8" dy="-3.0">pos</tspan></text>
<text x="30" y="340.3" font-size="8" text-anchor="end" fill="#dc3460" stroke="#dc3460" stroke-width="0.1">CD19<tspan font-size="4.8" dy="-3.0">neg</tspan></text>
<text x="30" y="350.8" font-size="8" text-anchor="end" fill="#3cb371" stroke="#3cb371" stroke-width="0.1">LS</text>
<text x="46.80" y="330.8" font-size="8" text-anchor="middle" fill="#2a72a0" stroke="#2a72a0" stroke-width="0.1">83</text>
<text x="79.90" y="330.8" font-size="8" text-anchor="middle" fill="#2a72a0" stroke="#2a72a0" stroke-width="0.1">46</text>
<text x="113.00" y="330.8" font-size="8" text-anchor="middle" fill="#2a72a0" stroke="#2a72a0" stroke-width="0.1">23</text>
<text x="146.10" y="330.8" font-size="8" text-anchor="middle" fill="#2a72a0" stroke="#2a72a0" stroke-width="0.1">15</text>
<text x="179.20" y="330.8" font-size="8" text-anchor="middle" fill="#2a72a0" stroke="#2a72a0" stroke-width="0.1">7</text>
<text x="212.30" y="330.8" font-size="8" text-anchor="middle" fill="#2a72a0" stroke="#2a72a0" stroke-width="0.1">5</text>
<text x="245.40" y="330.8" font-size="8" text-anchor="middle" fill="#2a72a0" stroke="#2a72a0" stroke-width="0.1">0</text>
<text x="46.80" y="340.3" font-size="8" text-anchor="middle" fill="#dc3460" stroke="#dc3460" stroke-width="0.1">68</text>
<text x="79.90" y="340.3" font-size="8" text-anchor="middle" fill="#dc3460" stroke="#dc3460" stroke-width="0.1">30</text>
<text x="113.00" y="340.3" font-size="8" text-anchor="middle" fill="#dc3460" stroke="#dc3460" stroke-width="0.1">12</text>
<text x="146.10" y="340.3" font-size="8" text-anchor="middle" fill="#dc3460" stroke="#dc3460" stroke-width="0.1">5</text>
<text x="179.20" y="340.3" font-size="8" text-anchor="middle" fill="#dc3460" stroke="#dc3460" stroke-width="0.1">3</text>
<text x="212.30" y="340.3" font-size="8" text-anchor="middle" fill="#dc3460" stroke="#dc3460" stroke-width="0.1">0</text>
<text x="46.80" y="350.8" font-size="8" text-anchor="middle" fill="#3cb371" stroke="#3cb371" stroke-width="0.1">12</text>
<text x="79.90" y="350.8" font-size="8" text-anchor="middle" fill="#3cb371" stroke="#3cb371" stroke-width="0.1">2</text>
<text x="113.00" y="350.8" font-size="8" text-anchor="middle" fill="#3cb371" stroke="#3cb371" stroke-width="0.1">0</text>
<text x="302.4" y="192.9" font-size="11" font-weight="bold" fill="#111">D</text>
<rect x="350" y="199.7" width="36" height="88.30" fill="#fa0036"/>
<rect x="350" y="288" width="36" height="53.40" fill="#036a98"/>
<rect x="408.2" y="199.7" width="36" height="44.80" fill="#fa0036"/>
<rect x="408.2" y="244.5" width="36" height="96.90" fill="#036a98"/>
<rect x="466.2" y="199.7" width="36" height="0.00" fill="#fa0036"/>
<rect x="466.2" y="199.7" width="36" height="141.70" fill="#036a98"/>
<line x1="331.7" y1="194.2" x2="331.7" y2="342.1" stroke="#1e1e1e" stroke-width="1.4"/>
<line x1="331" y1="341.4" x2="520" y2="341.4" stroke="#1e1e1e" stroke-width="1.4"/>
<line x1="329.5" y1="341.40" x2="332" y2="341.40" stroke="#1e1e1e" stroke-width="1.1"/>
<text x="325.6" y="344.40" font-size="8.9" text-anchor="end" fill="#222222" stroke="#222222" stroke-width="0.22">0</text>
<line x1="329.5" y1="313.06" x2="332" y2="313.06" stroke="#1e1e1e" stroke-width="1.1"/>
<text x="325.6" y="316.06" font-size="8.9" text-anchor="end" fill="#222222" stroke="#222222" stroke-width="0.22">20</text>
<line x1="329.5" y1="284.72" x2="332" y2="284.72" stroke="#1e1e1e" stroke-width="1.1"/>
<text x="325.6" y="287.72" font-size="8.9" text-anchor="end" fill="#222222" stroke="#222222" stroke-width="0.22">40</text>
<line x1="329.5" y1="256.38" x2="332" y2="256.38" stroke="#1e1e1e" stroke-width="1.1"/>
<text x="325.6" y="259.38" font-size="8.9" text-anchor="end" fill="#222222" stroke="#222222" stroke-width="0.22">60</text>
<line x1="329.5" y1="228.04" x2="332" y2="228.04" stroke="#1e1e1e" stroke-width="1.1"/>
<text x="325.6" y="231.04" font-size="8.9" text-anchor="end" fill="#222222" stroke="#222222" stroke-width="0.22">80</text>
<line x1="329.5" y1="199.70" x2="332" y2="199.70" stroke="#1e1e1e" stroke-width="1.1"/>
<text x="325.6" y="202.70" font-size="8.9" text-anchor="end" fill="#222222" stroke="#222222" stroke-width="0.22">100</text>
<line x1="368" y1="341.4" x2="368" y2="344.2" stroke="#1e1e1e" stroke-width="1"/>
<line x1="426.3" y1="341.4" x2="426.3" y2="344.2" stroke="#1e1e1e" stroke-width="1"/>
<line x1="484.2" y1="341.4" x2="484.2" y2="344.2" stroke="#1e1e1e" stroke-width="1"/>
<text x="368.3" y="353.6" font-size="8.4" text-anchor="middle" fill="#222222" stroke="#222222" stroke-width="0.22">CD19<tspan font-size="5" dy="-3.4">+</tspan></text>
<text x="426" y="353.6" font-size="8.4" text-anchor="middle" fill="#222222" stroke="#222222" stroke-width="0.22">CD19<tspan font-size="4.8" dy="-3.4">neg</tspan></text>
<text x="484" y="353.6" font-size="8.4" text-anchor="middle" fill="#222222" stroke="#222222" stroke-width="0.22">LS</text>
<text x="368.7" y="362.4" font-size="8.2" text-anchor="middle" fill="#222222" stroke="#222222" stroke-width="0.22">(n=78)</text>
<text x="426.3" y="362.4" font-size="8.2" text-anchor="middle" fill="#222222" stroke="#222222" stroke-width="0.22">(n=63)</text>
<text x="484" y="362.4" font-size="8.2" text-anchor="middle" fill="#222222" stroke="#222222" stroke-width="0.22">(n=8)</text>
<text transform="translate(310.2,328.8) rotate(-90)" font-size="8.6" textLength="116.7" lengthAdjust="spacingAndGlyphs" fill="#222222" stroke="#222222" stroke-width="0.22">% of all patients (by relapse phenotype)</text>
<rect x="344.8" y="371.3" width="8.2" height="7.7" fill="#036a98"/>
<text x="356.3" y="378" font-size="8" textLength="68.6" lengthAdjust="spacingAndGlyphs" fill="#222222" stroke="#222222" stroke-width="0.22">Ongoing BCA (n=80)</text>
<rect x="431.4" y="371.3" width="7.5" height="7.7" fill="#fa0036"/>
<text x="441.5" y="378" font-size="8" textLength="64.8" lengthAdjust="spacingAndGlyphs" fill="#222222" stroke="#222222" stroke-width="0.22">Loss of BCA (n=69)</text>
</svg>
</body></html>
